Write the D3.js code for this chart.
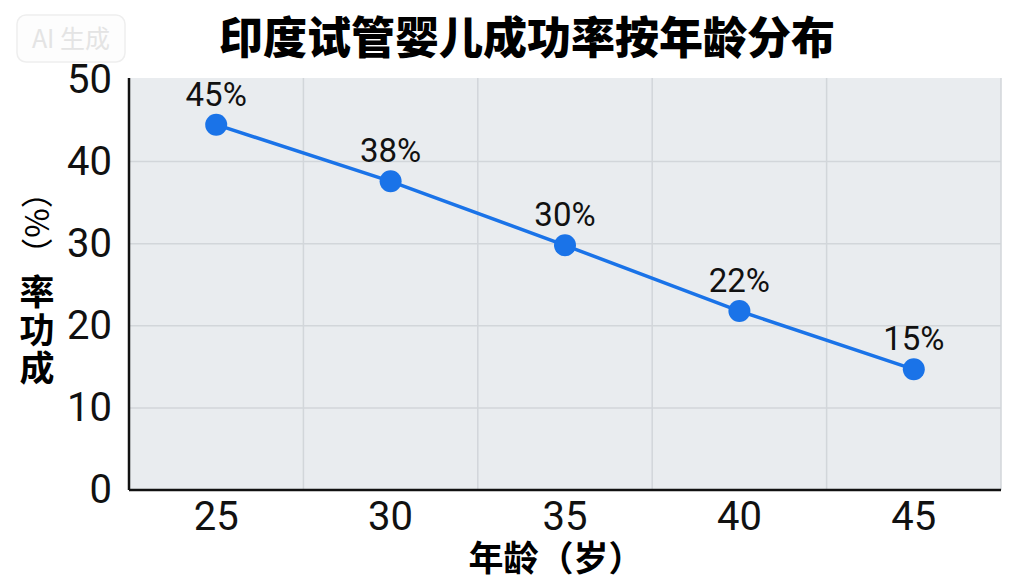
<!DOCTYPE html>
<html><head><meta charset="utf-8">
<script src="https://cdn.jsdelivr.net/npm/d3@7/dist/d3.min.js"></script>
<style>
html,body{margin:0;padding:0;background:#fff;}
svg{display:block;}
</style></head>
<body>
<svg id="chart" width="1024" height="576"></svg>
<script>
const title = "印度试管婴儿成功率按年龄分布";
const ages = ["25", "30", "35", "40", "45"];
const successRates = [44.5, 37.6, 29.8, 21.8, 14.7];
const pointLabels = ["45%", "38%", "30%", "22%", "15%"];
const yTicks = [0, 10, 20, 30, 40, 50];
const xAxisTitle = "年龄（岁）";
const yAxisChars = ["成", "功", "率"];
const yAxisUnit = "（%）";

const svg = d3.select("#chart");
const L = 129, R = 1001, T = 78, B = 490;
const x = d3.scaleBand().domain(ages).range([L, R]);
const y = d3.scaleLinear().domain([0, 50]).range([B, 79.5]);
const numFont = "Roboto, 'Noto Sans', sans-serif";
const cjkFont = "'Noto Sans CJK SC', 'Noto Sans', sans-serif";

// watermark
svg.append("rect").attr("x", 17).attr("y", 15).attr("width", 108).attr("height", 47)
  .attr("rx", 9).attr("fill", "#fdfdfd").attr("stroke", "#eeeeee").attr("stroke-width", 1.5);
svg.append("text").attr("x", 71).attr("y", 48).attr("text-anchor", "middle")
  .attr("font-family", cjkFont).attr("font-size", 25).attr("fill", "#e4e4e4")
  .text("AI 生成");

// title
svg.append("text").attr("x", 527).attr("y", 54).attr("text-anchor", "middle")
  .attr("font-family", cjkFont).attr("font-weight", 900).attr("font-size", 44)
  .attr("fill", "#000").text(title);

// plot background
svg.append("rect").attr("x", L).attr("y", T).attr("width", R - L).attr("height", B - T)
  .attr("fill", "#e9ecef");

// horizontal grid
svg.append("g").selectAll("line").data(yTicks.filter(d => d > 0 && d < 50)).join("line")
  .attr("x1", L).attr("x2", R).attr("y1", d => y(d)).attr("y2", d => y(d))
  .attr("stroke", "#d2d6da").attr("stroke-width", 1.5);

// vertical grid at band boundaries
const bounds = ages.slice(1).map(a => x(a)).concat([R]);
svg.append("g").selectAll("line").data(bounds).join("line")
  .attr("x1", d => d).attr("x2", d => d).attr("y1", T).attr("y2", B)
  .attr("stroke", "#d2d6da").attr("stroke-width", 1.5);

// axes
const yAxis = svg.append("g").attr("transform", `translate(${L},0)`)
  .call(d3.axisLeft(y).tickValues(yTicks).tickSize(0).tickPadding(17));
yAxis.select(".domain").attr("stroke", "#111").attr("stroke-width", 2.5).attr("d", `M0,${T}V${B}`);
yAxis.selectAll("text").attr("font-family", numFont).attr("font-size", 40).attr("fill", "#111");

const xAxis = svg.append("g").attr("transform", `translate(0,${B})`)
  .call(d3.axisBottom(x).tickSize(0).tickPadding(12));
xAxis.select(".domain").attr("stroke", "#111").attr("stroke-width", 2.5).attr("d", `M${L},0H${R}`);
xAxis.selectAll("text").attr("font-family", numFont).attr("font-size", 40).attr("fill", "#111");

// axis titles
svg.append("text").attr("x", 556).attr("y", 571).attr("text-anchor", "middle")
  .attr("font-family", cjkFont).attr("font-weight", 700).attr("font-size", 35)
  .attr("fill", "#000").text(xAxisTitle);

const ya = svg.append("text").attr("text-anchor", "middle").attr("font-family", cjkFont)
  .attr("font-weight", 700).attr("font-size", 35).attr("fill", "#000");
ya.selectAll("tspan").data(yAxisChars).join("tspan")
  .attr("x", 37).attr("y", (d, i) => 381 - i * 38).text(d => d);
svg.append("text").attr("transform", "translate(49,223) rotate(-90)")
  .attr("text-anchor", "middle").attr("font-family", cjkFont).attr("font-weight", 400)
  .attr("font-size", 32).attr("fill", "#000").text(yAxisUnit);

// line + points
const cx = (d, i) => x(ages[i]) + x.bandwidth() / 2;
const line = d3.line().x((d, i) => cx(d, i)).y(d => y(d));
svg.append("path").datum(successRates).attr("d", line)
  .attr("fill", "none").attr("stroke", "#1a73e8").attr("stroke-width", 3.5);
svg.append("g").selectAll("circle").data(successRates).join("circle")
  .attr("cx", cx).attr("cy", d => y(d)).attr("r", 11).attr("fill", "#1a73e8");
svg.append("g").selectAll("text").data(successRates).join("text")
  .attr("x", cx).attr("y", d => y(d) - 19).attr("text-anchor", "middle")
  .attr("font-family", numFont).attr("font-size", 33).attr("fill", "#111")
  .text((d, i) => pointLabels[i]);
</script>
</body></html>
